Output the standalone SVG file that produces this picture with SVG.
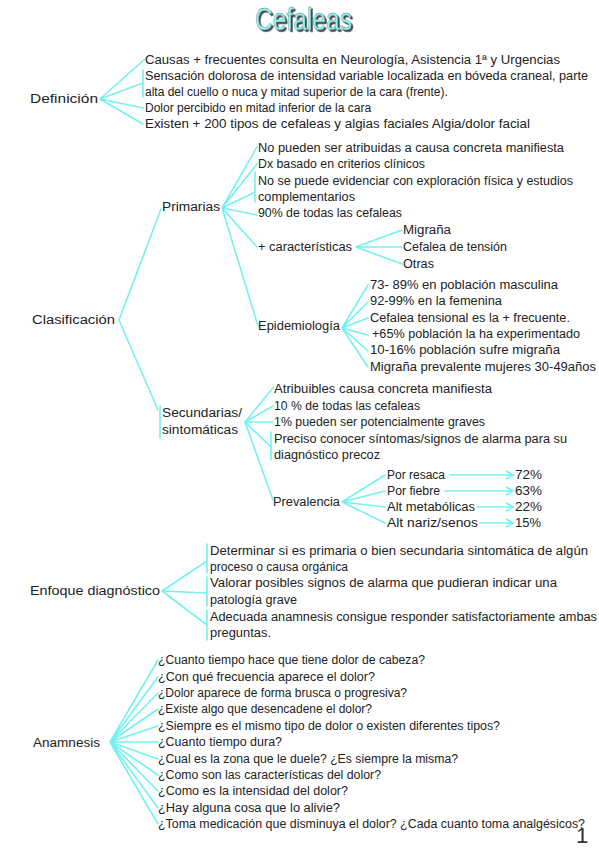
<svg xmlns="http://www.w3.org/2000/svg" width="599" height="848" viewBox="0 0 599 848">
<style>
.t{font-family:"Liberation Sans",Arial,sans-serif;font-size:12px;fill:#222}
.c{stroke:#74f2f2;stroke-width:1.6;fill:none;stroke-linecap:round}
.title{font-family:"Liberation Sans",Arial,sans-serif;font-size:31px}
</style>
<defs>
<marker id="ah" markerWidth="10" markerHeight="10" refX="8" refY="5" orient="auto" markerUnits="userSpaceOnUse">
<path d="M1,1 L8,5 L1,9" fill="none" stroke="#74f2f2" stroke-width="1.6"/>
</marker>
<filter id="sh" x="-10%" y="-20%" width="130%" height="150%">
<feDropShadow dx="1.8" dy="1.8" stdDeviation="0.6" flood-color="#333" flood-opacity="0.9"/>
</filter>
</defs>
<rect width="599" height="848" fill="#fff"/>

<g id="title">
<text class="title" x="255" y="30" fill="#8ff6f6" stroke="#5a7a7a" stroke-width="0.4" filter="url(#sh)" textLength="97" lengthAdjust="spacingAndGlyphs">Cefaleas</text>
</g>

<g id="connectors">
<path class="c" d="M100,99 L145,59 M100,99 L143,83 M143,70 L143,97 M100,99 L143,108 M100,99 L143,124"/>
<path class="c" d="M119,320 L161,209 M119,320 L158,410 M160,406 L160,438"/>
<path class="c" d="M222,208 L257,147 M222,208 L257,164 M222,208 L255,192 M255,172 L255,202 M222,208 L257,215 M222,208 L257,247 M222,208 L258,326"/>
<path class="c" d="M356,247 L402,230 M356,247 L402,247 M356,247 L402,264"/>
<path class="c" d="M342,328 L368,285 M342,328 L368,302 M342,328 L368,318 M342,328 L368,335 M342,328 L368,351 M342,328 L368,367"/>
<path class="c" d="M245,422 L273,388 M245,422 L273,406 M245,422 L273,422 M245,422 L271,447 M271,432 L271,460 M245,422 L273,500"/>
<path class="c" d="M342,502 L385,475 M342,502 L385,491 M342,502 L385,507 M342,502 L385,523"/>
<path class="c" marker-end="url(#ah)" d="M450,475 L513,475"/>
<path class="c" marker-end="url(#ah)" d="M445,491 L513,491"/>
<path class="c" marker-end="url(#ah)" d="M477,507 L513,507"/>
<path class="c" marker-end="url(#ah)" d="M480,523 L513,523"/>
<path class="c" d="M162,591 L207,561 M162,591 L207,593 M162,591 L207,625 M207,544 L207,573 M207,577 L207,606 M207,610 L207,640"/>
<path class="c" d="M110,742 L158,660 M110,742 L158,677 M110,742 L158,693 M110,742 L158,709 M110,742 L158,726 M110,742 L158,742 M110,742 L158,759 M110,742 L158,775 M110,742 L158,791 M110,742 L158,808 M110,742 L158,824"/>
</g>

<g id="definicion">
<text class="t" x="30" y="103" textLength="68" lengthAdjust="spacingAndGlyphs">Definición</text>
<text class="t" x="145" y="64" textLength="415" lengthAdjust="spacingAndGlyphs">Causas + frecuentes consulta en Neurología,  Asistencia 1ª y Urgencias</text>
<text class="t" x="145" y="80" textLength="443" lengthAdjust="spacingAndGlyphs">Sensación dolorosa de intensidad variable localizada en bóveda craneal, parte</text>
<text class="t" x="145" y="96">alta del cuello o nuca y mitad superior de la cara (frente).</text>
<text class="t" x="145" y="112">Dolor percibido en mitad inferior de la cara</text>
<text class="t" x="145" y="128" textLength="385" lengthAdjust="spacingAndGlyphs">Existen + 200 tipos de cefaleas y algias faciales  Algia/dolor facial</text>
</g>

<g id="clasificacion">
<text class="t" x="32" y="324" textLength="83" lengthAdjust="spacingAndGlyphs">Clasificación</text>
</g>

<g id="primarias">
<text class="t" x="162" y="211" textLength="58" lengthAdjust="spacingAndGlyphs">Primarias</text>
<text class="t" x="258" y="152" textLength="306" lengthAdjust="spacingAndGlyphs">No pueden ser atribuidas a causa concreta manifiesta</text>
<text class="t" x="258" y="168" textLength="167" lengthAdjust="spacingAndGlyphs">Dx basado en criterios clínicos</text>
<text class="t" x="258" y="185" textLength="315" lengthAdjust="spacingAndGlyphs">No se puede evidenciar con exploración física y estudios</text>
<text class="t" x="258" y="201" textLength="97" lengthAdjust="spacingAndGlyphs">complementarios</text>
<text class="t" x="258" y="217" textLength="144" lengthAdjust="spacingAndGlyphs">90% de todas las cefaleas</text>
</g>

<g id="caracteristicas">
<text class="t" x="258" y="251" textLength="94" lengthAdjust="spacingAndGlyphs">+ características</text>
<text class="t" x="403" y="234" textLength="48" lengthAdjust="spacingAndGlyphs">Migraña</text>
<text class="t" x="403" y="251" textLength="104" lengthAdjust="spacingAndGlyphs">Cefalea de tensión</text>
<text class="t" x="403" y="268" textLength="31" lengthAdjust="spacingAndGlyphs">Otras</text>
</g>

<g id="epidemiologia">
<text class="t" x="258" y="330" textLength="82" lengthAdjust="spacingAndGlyphs">Epidemiología</text>
<text class="t" x="370" y="289" textLength="188" lengthAdjust="spacingAndGlyphs">73- 89% en población masculina</text>
<text class="t" x="370" y="305" textLength="132" lengthAdjust="spacingAndGlyphs">92-99% en la femenina</text>
<text class="t" x="370" y="322" textLength="200" lengthAdjust="spacingAndGlyphs">Cefalea tensional es la + frecuente.</text>
<text class="t" x="372" y="338" textLength="208" lengthAdjust="spacingAndGlyphs">+65% población la ha experimentado</text>
<text class="t" x="370" y="354" textLength="190" lengthAdjust="spacingAndGlyphs">10-16% población sufre  migraña</text>
<text class="t" x="370" y="371" textLength="226" lengthAdjust="spacingAndGlyphs">Migraña prevalente mujeres 30-49años</text>
</g>

<g id="secundarias">
<text class="t" x="162" y="417" textLength="80" lengthAdjust="spacingAndGlyphs">Secundarias/</text>
<text class="t" x="162" y="434" textLength="76" lengthAdjust="spacingAndGlyphs">sintomáticas</text>
<text class="t" x="274" y="393" textLength="218" lengthAdjust="spacingAndGlyphs">Atribuibles causa concreta manifiesta</text>
<text class="t" x="274" y="410" textLength="146" lengthAdjust="spacingAndGlyphs">10 % de todas las cefaleas</text>
<text class="t" x="274" y="426" textLength="211" lengthAdjust="spacingAndGlyphs">1% pueden ser potencialmente graves</text>
<text class="t" x="274" y="443" textLength="293" lengthAdjust="spacingAndGlyphs">Preciso conocer síntomas/signos de alarma para su</text>
<text class="t" x="274" y="459" textLength="106" lengthAdjust="spacingAndGlyphs">diagnóstico precoz</text>
</g>

<g id="prevalencia">
<text class="t" x="273" y="506" textLength="67" lengthAdjust="spacingAndGlyphs">Prevalencia</text>
<text class="t" x="387" y="479" textLength="58" lengthAdjust="spacingAndGlyphs">Por resaca</text>
<text class="t" x="387" y="495" textLength="53" lengthAdjust="spacingAndGlyphs">Por fiebre</text>
<text class="t" x="387" y="511" textLength="88" lengthAdjust="spacingAndGlyphs">Alt metabólicas</text>
<text class="t" x="387" y="527" textLength="91" lengthAdjust="spacingAndGlyphs">Alt nariz/senos</text>
<text class="t" x="515" y="479" textLength="27" lengthAdjust="spacingAndGlyphs">72%</text>
<text class="t" x="515" y="495" textLength="27" lengthAdjust="spacingAndGlyphs">63%</text>
<text class="t" x="515" y="511" textLength="27" lengthAdjust="spacingAndGlyphs">22%</text>
<text class="t" x="515" y="527" textLength="26" lengthAdjust="spacingAndGlyphs">15%</text>
</g>

<g id="enfoque">
<text class="t" x="30" y="595" textLength="130" lengthAdjust="spacingAndGlyphs">Enfoque diagnóstico</text>
<text class="t" x="210" y="555" textLength="378" lengthAdjust="spacingAndGlyphs">Determinar si es primaria o bien secundaria sintomática de algún</text>
<text class="t" x="210" y="571" textLength="138" lengthAdjust="spacingAndGlyphs">proceso o causa orgánica</text>
<text class="t" x="210" y="587" textLength="347" lengthAdjust="spacingAndGlyphs">Valorar posibles signos de alarma que pudieran indicar una</text>
<text class="t" x="210" y="604" textLength="87" lengthAdjust="spacingAndGlyphs">patología grave</text>
<text class="t" x="210" y="621" textLength="387" lengthAdjust="spacingAndGlyphs">Adecuada anamnesis consigue responder satisfactoriamente ambas</text>
<text class="t" x="210" y="637" textLength="61" lengthAdjust="spacingAndGlyphs">preguntas.</text>
</g>

<g id="anamnesis">
<text class="t" x="33" y="747" textLength="67" lengthAdjust="spacingAndGlyphs">Anamnesis</text>
<text class="t" x="158" y="664" textLength="267" lengthAdjust="spacingAndGlyphs">¿Cuanto tiempo hace que tiene dolor de cabeza?</text>
<text class="t" x="158" y="681" textLength="217" lengthAdjust="spacingAndGlyphs">¿Con qué frecuencia aparece el dolor?</text>
<text class="t" x="158" y="697" textLength="249" lengthAdjust="spacingAndGlyphs">¿Dolor aparece de forma brusca o progresiva?</text>
<text class="t" x="158" y="713" textLength="214" lengthAdjust="spacingAndGlyphs">¿Existe algo que desencadene el dolor?</text>
<text class="t" x="158" y="730" textLength="342" lengthAdjust="spacingAndGlyphs">¿Siempre es el mismo tipo de dolor o existen diferentes tipos?</text>
<text class="t" x="158" y="746" textLength="124" lengthAdjust="spacingAndGlyphs">¿Cuanto tiempo dura?</text>
<text class="t" x="158" y="763" textLength="300" lengthAdjust="spacingAndGlyphs">¿Cual es la zona que le duele? ¿Es siempre la misma?</text>
<text class="t" x="158" y="779" textLength="223" lengthAdjust="spacingAndGlyphs">¿Como son las características del dolor?</text>
<text class="t" x="158" y="795" textLength="190" lengthAdjust="spacingAndGlyphs">¿Como es la intensidad del dolor?</text>
<text class="t" x="158" y="812" textLength="182" lengthAdjust="spacingAndGlyphs">¿Hay alguna cosa que lo alivie?</text>
<text class="t" x="158" y="828" textLength="427" lengthAdjust="spacingAndGlyphs">¿Toma medicación que disminuya el dolor? ¿Cada cuanto toma analgésicos?</text>
</g>

<g id="page-number">
<text x="576" y="843" style="font-family:'Liberation Sans',Arial,sans-serif;font-size:22px;fill:#333">1</text>
</g>
</svg>
